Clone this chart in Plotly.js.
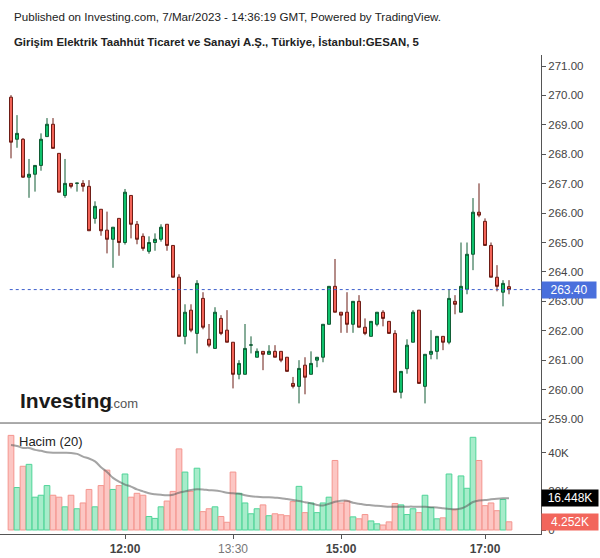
<!DOCTYPE html>
<html><head><meta charset="utf-8">
<script src="https://cdn.plot.ly/plotly-3.0.1.min.js"></script>
<style>html,body{margin:0;padding:0;background:#fff}#chart{width:600px;height:558px}</style>
</head><body><div id="chart"></div>
<script>
// ---- data (GESAN, 5-minute candles, 7 Mar 2023) ----
const firstBar = '2023-03-07 10:25';
const opens  = [269.94,268.51,268.51,267.22,267.32,267.62,268.60,269.02,268.03,266.60,267.01,267.01,267.01,266.91,265.82,266.13,265.42,265.11,265.82,265.00,266.60,265.62,265.21,264.70,265.00,265.11,265.62,264.90,263.82,261.81,262.70,261.91,263.10,261.71,261.40,262.42,262.02,261.61,260.52,260.52,261.51,261.10,261.30,261.20,261.30,261.30,261.10,260.21,260.11,260.83,260.52,261.00,261.10,262.22,263.51,262.63,262.63,262.22,263.00,262.12,261.81,262.22,262.63,262.32,261.91,259.91,260.71,261.61,262.70,260.11,261.20,261.30,261.81,261.61,263.00,262.63,263.41,264.60,266.03,265.72,264.90,263.82,263.31,263.50];
const highs  = [270.01,269.33,268.55,267.84,267.63,268.71,269.23,269.23,268.03,267.84,267.01,267.02,267.12,267.12,266.40,266.13,266.05,265.52,265.82,266.82,266.60,265.73,265.31,265.21,265.31,265.62,265.62,264.90,263.92,262.90,262.90,263.72,263.31,262.23,262.80,262.53,262.70,261.61,261.00,262.23,261.81,261.40,261.30,261.51,261.51,261.30,261.10,260.43,261.00,261.10,261.30,261.10,262.22,263.51,264.44,262.63,263.31,263.00,263.21,262.42,262.32,262.63,262.70,262.32,262.02,260.62,261.71,262.70,262.70,261.20,262.02,261.81,261.81,263.41,263.21,265.00,265.00,266.51,267.01,265.82,265.00,264.23,263.72,263.72];
const lows   = [267.86,268.22,267.20,266.52,266.73,267.44,268.60,268.20,266.71,266.52,266.84,266.73,266.73,265.40,265.64,265.23,264.63,264.14,264.55,264.93,265.14,264.94,264.72,264.62,264.72,265.03,264.72,263.82,261.81,261.54,261.95,261.23,262.05,261.44,261.40,261.85,261.61,260.04,260.35,260.52,261.23,261.10,260.66,261.20,261.10,260.93,260.62,260.04,259.53,259.84,260.52,260.76,260.93,262.22,262.63,261.93,261.93,261.93,262.12,261.85,261.81,262.15,262.15,261.91,259.91,259.70,260.54,261.61,260.21,259.53,261.03,261.03,261.34,261.54,262.56,262.63,263.24,264.06,265.86,264.90,263.82,263.34,262.83,263.24];
const closes = [268.41,268.71,267.22,267.32,267.62,268.51,269.02,268.20,266.71,267.01,266.91,267.02,266.91,265.40,266.23,265.40,265.11,265.52,265.00,266.71,265.62,265.11,264.80,265.00,265.11,265.52,264.90,263.82,261.81,262.63,262.02,263.61,262.12,261.51,262.63,261.91,261.61,260.52,260.89,261.40,261.52,261.30,261.20,261.30,261.10,261.00,260.62,260.11,260.72,260.42,260.89,261.10,262.22,263.51,262.63,262.53,262.22,263.00,262.12,261.91,262.32,262.63,262.42,261.91,259.91,260.62,261.51,262.63,260.21,261.20,261.30,261.81,261.61,263.10,262.90,263.51,264.60,266.03,265.93,264.90,263.82,263.51,263.61,263.40];
const volumesK = [49,22,33,34,17,18,23,18,17,12,18,11,14,21,12,23,31,21,23,29,17,19,18,7,6,12,15,20,42,30,20,32,9.5,11,12,7,4,30,19,14,8.4,11,13,7.4,8.4,7.9,7.4,14.7,22.6,9,14,9,14,17,36,14,15,6.8,5.8,8,4.7,3.2,2.6,4.2,13.7,13,8,11,9,18,11.6,5.8,6.3,29,10.5,28,21.6,48,36,12.6,14,10,15.8,4.252];
const volMaK = [44.0,43.5,42.5,42.5,41.5,41.0,40.3,40.0,40.0,40.0,39.9,39.4,38.0,37.0,35.5,32.5,30.0,27.0,25.0,23.5,22.5,21.0,20.0,19.0,18.5,18.2,18.0,18.3,19.3,20.0,20.7,21.1,21.0,20.6,20.5,20.0,19.3,19.0,18.8,18.0,17.5,17.2,17.0,16.9,16.7,16.5,16.0,15.5,15.0,14.4,13.8,13.0,12.7,13.6,14.6,15.2,15.2,14.1,13.6,13.1,12.8,12.5,12.3,12.1,12.1,12.1,12.1,12.1,12.0,12.0,11.8,11.7,11.3,10.9,10.7,11.1,12.5,14.5,15.3,15.5,15.9,16.2,16.4,16.448];
const priceTicks = [259,260,261,262,263,264,265,266,267,268,269,270,271];
const volTicks = [0,20000,40000];
const volTickText = ['0','20K','40K'];
const timeTicks = ['2023-03-07 12:00','2023-03-07 13:30','2023-03-07 15:00','2023-03-07 17:00'];
const timeTickText = ['<b>12:00</b>','<span style="color:#777">13:30</span>','<b>15:00</b>','<b>17:00</b>'];
const lastPrice = 263.40;
const lastVolMa = 16448;
const lastVol = 4252;

// ---- helpers ----
function pad(n){return (n<10?'0':'')+n;}
const t0 = new Date(firstBar.replace(' ','T'));
const times = opens.map((_,i)=>{const d=new Date(t0.getTime()+i*300000);return d.getFullYear()+'-'+pad(d.getMonth()+1)+'-'+pad(d.getDate())+' '+pad(d.getHours())+':'+pad(d.getMinutes());});
const up = closes.map((c,i)=>c>=opens[i]);
const FONT = 'Arial, "Liberation Sans", sans-serif';

const candles = {
  type:'candlestick', x:times, open:opens, high:highs, low:lows, close:closes,
  xaxis:'x', yaxis:'y', whiskerwidth:0,
  increasing:{fillcolor:'#10c46e', line:{color:'#0f5b33', width:1}},
  decreasing:{fillcolor:'#f5665a', line:{color:'#6b1a13', width:1}},
  hoverinfo:'skip'
};
const vols = {
  type:'bar', x:times, y:volumesK.map(v=>v*1000), xaxis:'x', yaxis:'y2',
  width:300000*0.95,
  marker:{color:up.map(u=>u?'#a6ecca':'#fcc6c3'), line:{color:up.map(u=>u?'#4fd498':'#f4958e'), width:1}},
  hoverinfo:'skip'
};
const volMa = {
  type:'scatter', mode:'lines', x:times, y:volMaK.map(v=>v*1000), xaxis:'x', yaxis:'y2',
  line:{color:'rgba(90,90,90,0.55)', width:2, shape:'spline'}, hoverinfo:'skip'
};

const split = 0.2317;
const layout = {
  width:600, height:558,
  margin:{l:0, r:59, t:55, b:24},
  paper_bgcolor:'#ffffff', plot_bgcolor:'#ffffff',
  showlegend:false, hovermode:false,
  font:{family:FONT, size:12, color:'#333'},
  xaxis:{type:'date', range:['2023-03-07 10:15:50','2023-03-07 17:46:40'], anchor:'y2',
    showline:true, linecolor:'#555', linewidth:1, ticks:'outside', ticklen:4, tickcolor:'#555',
    tickvals:timeTicks, ticktext:timeTickText, showgrid:false, zeroline:false,
    rangeslider:{visible:false}, tickfont:{size:12, color:'#444', family:FONT}},
  yaxis:{domain:[split,1], side:'right', anchor:'x', range:[258.864,271.374],
    tickvals:priceTicks, ticktext:priceTicks.map(v=>v.toFixed(2)),
    showline:true, linecolor:'#555', linewidth:1, ticks:'outside', ticklen:4, tickcolor:'#555',
    showgrid:false, zeroline:false, tickfont:{size:11.5, color:'#444', family:FONT}},
  yaxis2:{domain:[0,split], side:'right', anchor:'x', range:[-2070,55400],
    tickvals:volTicks, ticktext:volTickText,
    showline:true, linecolor:'#555', linewidth:1, ticks:'outside', ticklen:4, tickcolor:'#555',
    showgrid:false, zeroline:false, tickfont:{size:11.5, color:'#444', family:FONT}},
  shapes:[
    {type:'line', xref:'paper', yref:'paper', x0:0, x1:1, y0:split, y1:split, line:{color:'#555', width:1}},
    {type:'line', xref:'paper', yref:'y', x0:0.018, x1:1, y0:lastPrice, y1:lastPrice, line:{color:'#3d5fcc', width:1, dash:'dot'}}
  ],
  annotations:[
    {xref:'paper', yref:'paper', x:12/541, y:1+(55-17)/479, xanchor:'left', yanchor:'middle', showarrow:false,
     text:'Published on Investing.com, 7/Mar/2023 - 14:36:19 GMT, Powered by TradingView.', font:{size:11.6, color:'#222', family:FONT}},
    {xref:'paper', yref:'paper', x:12/541, y:1+(55-42)/479, xanchor:'left', yanchor:'middle', showarrow:false,
     text:'<b>Girişim Elektrik Taahhüt Ticaret ve Sanayi A.Ş., Türkiye, İstanbul:GESAN, 5</b>', font:{size:11.4, color:'#222', family:FONT}},
    {xref:'paper', yref:'paper', x:18/541, y:(534-400)/479, xanchor:'left', yanchor:'middle', showarrow:false,
     text:'<b>Investing</b>', font:{size:21, color:'#1a1a1a', family:FONT}},
    {xref:'paper', yref:'paper', x:108/541, y:(534-403)/479, xanchor:'left', yanchor:'middle', showarrow:false,
     text:'.com', font:{size:13, color:'#555', family:FONT}},
    {xref:'paper', yref:'paper', x:17/541, y:(534-441)/479, xanchor:'left', yanchor:'middle', showarrow:false,
     text:'Hacim (20)', font:{size:13, color:'#222', family:FONT}},
    {xref:'paper', yref:'y', x:1, y:lastPrice, xanchor:'left', yanchor:'middle', showarrow:false,
     text:lastPrice.toFixed(2), bgcolor:'#4a6fdc', borderpad:1, width:52, height:14, align:'center',
     font:{size:12, color:'#ffffff', family:FONT}},
    {xref:'paper', yref:'y2', x:1, y:lastVolMa, xanchor:'left', yanchor:'middle', showarrow:false,
     text:(lastVolMa/1000).toFixed(3)+'K', bgcolor:'#000000', borderpad:1, width:54, height:14, align:'center',
     font:{size:12, color:'#ffffff', family:FONT}},
    {xref:'paper', yref:'y2', x:1, y:lastVol, xanchor:'left', yanchor:'middle', showarrow:false,
     text:(lastVol/1000).toFixed(3)+'K', bgcolor:'#f2665c', borderpad:1, width:54, height:14, align:'center',
     font:{size:12, color:'#ffffff', family:FONT}}
  ]
};
Plotly.newPlot('chart', [vols, volMa, candles], layout, {displayModeBar:false, staticPlot:true});
</script>
</body></html>
